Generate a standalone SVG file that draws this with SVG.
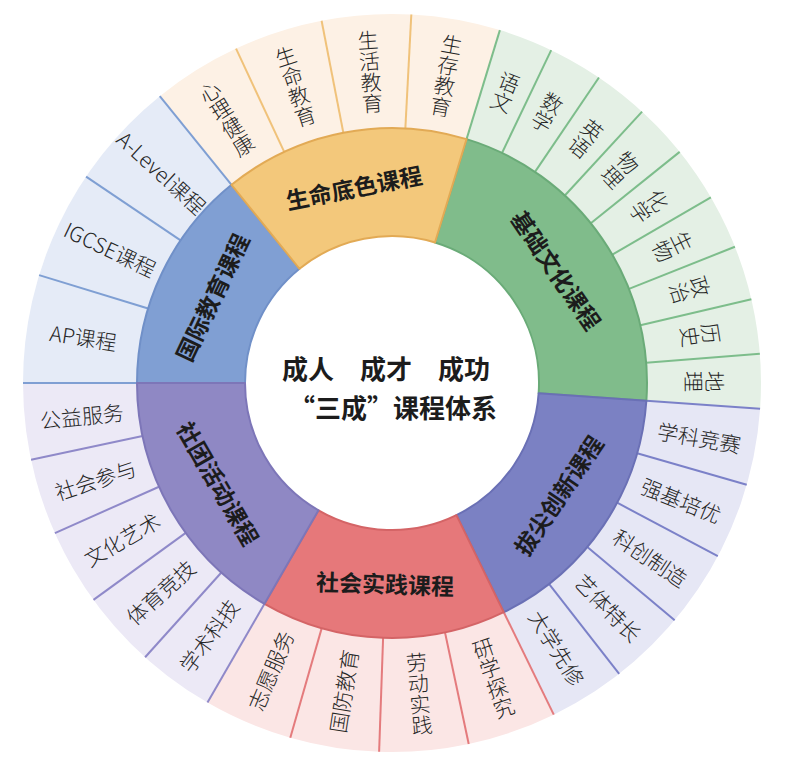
<svg xmlns="http://www.w3.org/2000/svg" width="788" height="768" viewBox="0 0 788 768">
<style>
text { font-family: "Noto Sans CJK SC", "Noto Sans", sans-serif; fill: #222; text-anchor: middle; dominant-baseline: central; }
.ol { font-size: 21px; font-weight: 300; fill: #262626; }
.v { writing-mode: vertical-rl; }
.il { font-size: 23px; font-weight: 700; fill: #1c1c1c; }
.ct { font-size: 26px; font-weight: 700; fill: #1c1c1c; }
.sep { stroke-width: 2; fill: none; }
.seg { stroke-width: 2; stroke-linejoin: round; }
.s-gj { stroke: #7f9fd3; } .s-sm { stroke: #f0c27a; } .s-jc { stroke: #7dbd8b; }
.s-bj { stroke: #7b81c8; } .s-sj { stroke: #e47b7d; } .s-st { stroke: #8f89c9; }
</style>
<defs>
<path id="o51" d="M0 -369A369 369 0 0 1 286.77 -232.22L198.17 -160.48A255 255 0 0 0 0 -255Z"/>
<path id="o56" d="M0 -369A369 369 0 0 1 305.92 -206.34L211.40 -142.59A255 255 0 0 0 0 -255Z"/>
<path id="o77" d="M0 -369A369 369 0 0 1 359.54 -83.01L248.46 -57.36A255 255 0 0 0 0 -255Z"/>
<path id="o60" d="M0 -369A369 369 0 0 1 319.56 -184.5L220.84 -127.5A255 255 0 0 0 0 -255Z"/>
<path id="i51" d="M0 -255A255 255 0 0 1 198.17 -160.48L114.24 -92.51A147 147 0 0 0 0 -147Z"/>
<path id="i56" d="M0 -255A255 255 0 0 1 211.40 -142.59L121.87 -82.20A147 147 0 0 0 0 -147Z"/>
<path id="i77" d="M0 -255A255 255 0 0 1 248.46 -57.36L143.23 -33.07A147 147 0 0 0 0 -147Z"/>
<path id="i60" d="M0 -255A255 255 0 0 1 220.84 -127.5L127.31 -73.5A147 147 0 0 0 0 -147Z"/>
<line id="sl" x1="0" y1="-255" x2="0" y2="-369"/>
</defs>
<g transform="translate(392 383)">
<g id="outer-bg">
<use href="#o51" transform="rotate(270)" fill="#e5ebf7"/>
<use href="#o56" transform="rotate(321)" fill="#fdf1e5"/>
<use href="#o77" transform="rotate(17)" fill="#e4f0e5"/>
<use href="#o60" transform="rotate(94)" fill="#e6e7f5"/>
<use href="#o56" transform="rotate(154)" fill="#fbe6e5"/>
<use href="#o60" transform="rotate(210)" fill="#ece9f6"/>
</g>
<g id="items">
<g id="items-guoji">
<g id="item-ap"><use href="#sl" class="sep s-gj" transform="rotate(270)"/><text class="ol" transform="rotate(278.5) translate(0 -312) rotate(90)">AP课程</text></g>
<g id="item-igcse"><use href="#sl" class="sep s-gj" transform="rotate(287)"/><text class="ol" transform="rotate(295.5) translate(0 -312) rotate(90)">IGCSE课程</text></g>
<g id="item-alevel"><use href="#sl" class="sep s-gj" transform="rotate(304)"/><use href="#sl" class="sep s-gj" transform="rotate(321)"/><text class="ol" transform="rotate(312.5) translate(0 -312) rotate(90)">A-Level课程</text></g>
</g>
<g id="items-shengming">
<g id="item-xinli"><text class="ol v" transform="rotate(328) translate(0 -312)">心理健康</text></g>
<g id="item-shengming"><use href="#sl" class="sep s-sm" transform="rotate(335)"/><text class="ol v" transform="rotate(342) translate(0 -312)">生命教育</text></g>
<g id="item-shenghuo"><use href="#sl" class="sep s-sm" transform="rotate(349)"/><text class="ol v" transform="rotate(356) translate(0 -312)">生活教育</text></g>
<g id="item-shengcun"><use href="#sl" class="sep s-sm" transform="rotate(3)"/><text class="ol v" transform="rotate(10) translate(0 -312)">生存教育</text></g>
</g>
<g id="items-jichu">
<g id="item-yuwen"><use href="#sl" class="sep s-jc" transform="rotate(17)"/><text class="ol v" transform="rotate(21.278) translate(0 -312)">语文</text></g>
<g id="item-shuxue"><use href="#sl" class="sep s-jc" transform="rotate(25.556)"/><text class="ol v" transform="rotate(29.833) translate(0 -312)">数学</text></g>
<g id="item-yingyu"><use href="#sl" class="sep s-jc" transform="rotate(34.111)"/><text class="ol v" transform="rotate(38.389) translate(0 -312)">英语</text></g>
<g id="item-wuli"><use href="#sl" class="sep s-jc" transform="rotate(42.667)"/><text class="ol v" transform="rotate(46.944) translate(0 -312)">物理</text></g>
<g id="item-huaxue"><use href="#sl" class="sep s-jc" transform="rotate(51.222)"/><text class="ol v" transform="rotate(55.5) translate(0 -312)">化学</text></g>
<g id="item-shengwu"><use href="#sl" class="sep s-jc" transform="rotate(59.778)"/><text class="ol v" transform="rotate(64.056) translate(0 -312)">生物</text></g>
<g id="item-zhengzhi"><use href="#sl" class="sep s-jc" transform="rotate(68.333)"/><text class="ol v" transform="rotate(72.611) translate(0 -312)">政治</text></g>
<g id="item-lishi"><use href="#sl" class="sep s-jc" transform="rotate(76.889)"/><text class="ol v" transform="rotate(81.167) translate(0 -312)">历史</text></g>
<g id="item-dili"><use href="#sl" class="sep s-jc" transform="rotate(85.444)"/><text class="ol v" transform="rotate(89.722) translate(0 -312)">地理</text></g>
</g>
<g id="items-bajian">
<g id="item-jingsai"><use href="#sl" class="sep s-bj" transform="rotate(94)"/><text class="ol" transform="rotate(100) translate(0 -312) rotate(-90)">学科竞赛</text></g>
<g id="item-qiangji"><use href="#sl" class="sep s-bj" transform="rotate(106)"/><text class="ol" transform="rotate(112) translate(0 -312) rotate(-90)">强基培优</text></g>
<g id="item-kechuang"><use href="#sl" class="sep s-bj" transform="rotate(118)"/><text class="ol" transform="rotate(124) translate(0 -312) rotate(-90)">科创制造</text></g>
<g id="item-yiti"><use href="#sl" class="sep s-bj" transform="rotate(130)"/><text class="ol" transform="rotate(136) translate(0 -312) rotate(-90)">艺体特长</text></g>
<g id="item-daxue"><use href="#sl" class="sep s-bj" transform="rotate(142)"/><text class="ol" transform="rotate(148) translate(0 -312) rotate(-90)">大学先修</text></g>
</g>
<g id="items-shijian">
<g id="item-yanxue"><use href="#sl" class="sep s-sj" transform="rotate(154)"/><text class="ol v" transform="rotate(161) translate(0 -312) rotate(180)">研学探究</text></g>
<g id="item-laodong"><use href="#sl" class="sep s-sj" transform="rotate(168)"/><text class="ol v" transform="rotate(175) translate(0 -312) rotate(180)">劳动实践</text></g>
<g id="item-guofang"><use href="#sl" class="sep s-sj" transform="rotate(182)"/><text class="ol" transform="rotate(189) translate(0 -312) rotate(90)">国防教育</text></g>
<g id="item-zhiyuan"><use href="#sl" class="sep s-sj" transform="rotate(196)"/><text class="ol" transform="rotate(203) translate(0 -312) rotate(90)">志愿服务</text></g>
</g>
<g id="items-shetuan">
<g id="item-xueshu"><use href="#sl" class="sep s-st" transform="rotate(210)"/><text class="ol" transform="rotate(216) translate(0 -312) rotate(90)">学术科技</text></g>
<g id="item-tiyu"><use href="#sl" class="sep s-st" transform="rotate(222)"/><text class="ol" transform="rotate(228) translate(0 -312) rotate(90)">体育竞技</text></g>
<g id="item-wenhua"><use href="#sl" class="sep s-st" transform="rotate(234)"/><text class="ol" transform="rotate(240) translate(0 -312) rotate(90)">文化艺术</text></g>
<g id="item-shehui"><use href="#sl" class="sep s-st" transform="rotate(246)"/><text class="ol" transform="rotate(252) translate(0 -312) rotate(90)">社会参与</text></g>
<g id="item-gongyi"><use href="#sl" class="sep s-st" transform="rotate(258)"/><text class="ol" transform="rotate(264) translate(0 -312) rotate(90)">公益服务</text></g>
</g>
</g>
<g id="categories">
<g id="cat-guoji"><use href="#i51" class="seg" transform="rotate(270)" fill="#809fd3" stroke="#7090c8"/><text class="il" transform="rotate(295.5) translate(0 -200)">国际教育课程</text></g>
<g id="cat-jichu"><use href="#i77" class="seg" transform="rotate(17)" fill="#80bc8b" stroke="#6aab78"/><text class="il" transform="rotate(55.5) translate(0 -200)">基础文化课程</text></g>
<g id="cat-shengming"><use href="#i56" class="seg" transform="rotate(321)" fill="#f3c87b" stroke="#e2aa55"/><text class="il" transform="rotate(349) translate(0 -200)">生命底色课程</text></g>
<g id="cat-bajian"><use href="#i60" class="seg" transform="rotate(94)" fill="#7b81c3" stroke="#6a70b5"/><text class="il" transform="rotate(124) translate(0 -200) rotate(180)">拔尖创新课程</text></g>
<g id="cat-shijian"><use href="#i56" class="seg" transform="rotate(154)" fill="#e6787a" stroke="#d46466"/><text class="il" transform="rotate(182) translate(0 -200) rotate(180)">社会实践课程</text></g>
<g id="cat-shetuan"><use href="#i60" class="seg" transform="rotate(210)" fill="#8f88c4" stroke="#7d76b8"/><text class="il" transform="rotate(240) translate(0 -200) rotate(180)">社团活动课程</text></g>
</g>
</g>
<g id="center">
<text class="ct" x="386" y="367">成人　成才　成功</text>
<text class="ct" x="393" y="406">“三成”课程体系</text>
</g>
</svg>
